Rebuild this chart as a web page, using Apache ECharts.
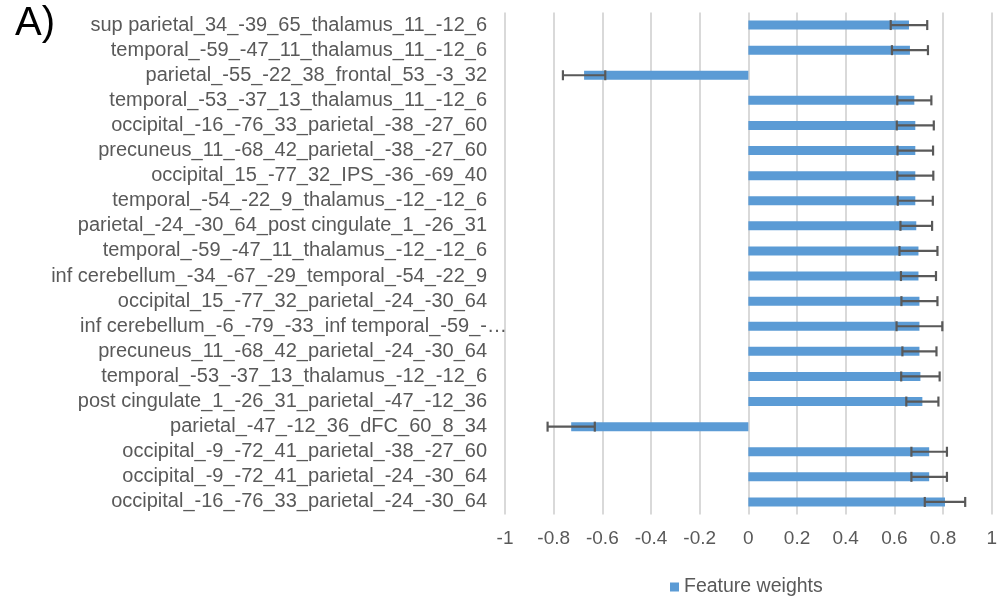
<!DOCTYPE html>
<html>
<head>
<meta charset="utf-8">
<script src="https://cdn.jsdelivr.net/npm/echarts@6/dist/echarts.min.js"></script>
<style>html,body{margin:0;padding:0;background:#fff}#c{width:1000px;height:600px}</style>
</head>
<body>
<div id="c"></div>
<script>
const categories = [
  "sup parietal_34_-39_65_thalamus_11_-12_6",
  "temporal_-59_-47_11_thalamus_11_-12_6",
  "parietal_-55_-22_38_frontal_53_-3_32",
  "temporal_-53_-37_13_thalamus_11_-12_6",
  "occipital_-16_-76_33_parietal_-38_-27_60",
  "precuneus_11_-68_42_parietal_-38_-27_60",
  "occipital_15_-77_32_IPS_-36_-69_40",
  "temporal_-54_-22_9_thalamus_-12_-12_6",
  "parietal_-24_-30_64_post cingulate_1_-26_31",
  "temporal_-59_-47_11_thalamus_-12_-12_6",
  "inf cerebellum_-34_-67_-29_temporal_-54_-22_9",
  "occipital_15_-77_32_parietal_-24_-30_64",
  "inf cerebellum_-6_-79_-33_inf temporal_-59_-…",
  "precuneus_11_-68_42_parietal_-24_-30_64",
  "temporal_-53_-37_13_thalamus_-12_-12_6",
  "post cingulate_1_-26_31_parietal_-47_-12_36",
  "parietal_-47_-12_36_dFC_60_8_34",
  "occipital_-9_-72_41_parietal_-38_-27_60",
  "occipital_-9_-72_41_parietal_-24_-30_64",
  "occipital_-16_-76_33_parietal_-24_-30_64"
];
const weights = [0.660, 0.664, -0.675, 0.682, 0.686, 0.686, 0.686, 0.686, 0.690, 0.699,
                 0.699, 0.703, 0.703, 0.703, 0.707, 0.715, -0.728, 0.743, 0.743, 0.808];
const errors  = [0.075, 0.074, 0.087, 0.070, 0.076, 0.073, 0.074, 0.072, 0.065, 0.078,
                 0.072, 0.074, 0.094, 0.070, 0.079, 0.066, 0.097, 0.073, 0.073, 0.083];
const xTicks = [-1, -0.8, -0.6, -0.4, -0.2, 0, 0.2, 0.4, 0.6, 0.8, 1];

const FONT = 'Liberation Sans, Arial, sans-serif';
const errData = weights.map((w, i) => [i, w - errors[i], w + errors[i]]);
const yData = categories.map(c => c.endsWith('…')
  ? {value: c, textStyle: {padding: [0, -20, 0, 0]}}
  : c);

const chart = echarts.init(document.getElementById('c'), null, {renderer: 'canvas'});
chart.setOption({
  animation: false,
  backgroundColor: '#fff',
  title: {
    text: 'A)', left: 10, top: -1,
    textStyle: {fontFamily: FONT, fontSize: 40, fontWeight: 'normal', color: '#000'}
  },
  grid: {left: 505, right: 4, top: 12.5, bottom: 85.5, containLabel: false},
  legend: {
    data: ['Feature weights'], top: 572, left: 665,
    icon: 'rect', itemWidth: 9, itemHeight: 9, itemGap: 5,
    textStyle: {fontFamily: FONT, fontSize: 19.5, color: '#595959', padding: [0, 0, 0, 0]}
  },
  xAxis: {
    type: 'value', min: -1, max: 1, interval: 0.2,
    axisLine: {show: false}, axisTick: {show: false},
    splitLine: {show: true, lineStyle: {color: '#d9d9d9', width: 2}},
    axisLabel: {
      margin: 15, color: '#595959', fontSize: 19, fontFamily: FONT,
      formatter: v => { const t = xTicks.find(x => Math.abs(x - v) < 1e-9); return t === undefined ? '' : String(t); }
    }
  },
  yAxis: {
    type: 'category', data: yData, inverse: true,
    axisLine: {show: false}, axisTick: {show: false},
    axisLabel: {margin: 18, color: '#595959', fontSize: 20, fontFamily: FONT, interval: 0}
  },
  series: [
    {
      name: 'Feature weights', type: 'bar', data: weights, barWidth: 9,
      itemStyle: {color: '#5b9bd5'}
    },
    {
      name: 'err', type: 'custom', data: errData, z: 10,
      encode: {x: [1, 2], y: 0},
      renderItem: function (params, api) {
        const idx = api.value(0);
        const lo = api.coord([api.value(1), idx]);
        const hi = api.coord([api.value(2), idx]);
        const h = 5;
        const style = {stroke: '#595959', lineWidth: 2.2};
        return {
          type: 'group',
          children: [
            {type: 'line', shape: {x1: lo[0], y1: lo[1], x2: hi[0], y2: hi[1]}, style: style},
            {type: 'line', shape: {x1: lo[0], y1: lo[1] - h, x2: lo[0], y2: lo[1] + h}, style: style},
            {type: 'line', shape: {x1: hi[0], y1: hi[1] - h, x2: hi[0], y2: hi[1] + h}, style: style}
          ]
        };
      }
    }
  ]
});
</script>
</body>
</html>
